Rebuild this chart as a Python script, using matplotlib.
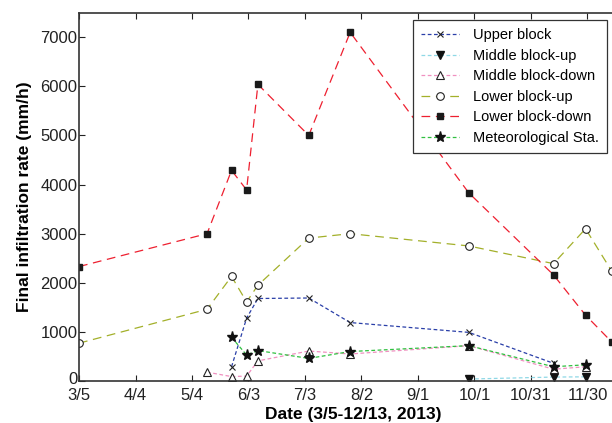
import numpy as np
import pandas as pd
import matplotlib
matplotlib.use('Agg')
import matplotlib.pyplot as plt
import matplotlib.dates as mdates
import matplotlib.transforms as mtransforms

plt.rcParams['font.family'] = ['Liberation Sans', 'DejaVu Sans']

# --- data ---
upper_dates = ['2013-05-25', '2013-06-02', '2013-06-08', '2013-07-05', '2013-07-27',
               '2013-09-28', '2013-11-12']
upper = [290, 1280, 1680, 1690, 1190, 990, 360]

mid_up_dates = ['2013-09-28', '2013-11-12', '2013-11-29']
mid_up = [40, 80, 85]

mid_down_dates = ['2013-05-12', '2013-05-25', '2013-06-02', '2013-06-08', '2013-07-05',
                  '2013-07-27', '2013-09-28', '2013-11-12', '2013-11-29']
mid_down = [180, 90, 100, 410, 610, 550, 720, 240, 290]

lower_dates = ['2013-03-05', '2013-05-12', '2013-05-25', '2013-06-02', '2013-06-08',
               '2013-07-05', '2013-07-27', '2013-09-28', '2013-11-12', '2013-11-29',
               '2013-12-13']
lower_up = [770, 1460, 2130, 1610, 1950, 2910, 3000, 2750, 2390, 3100, 2230]
lower_down = [2330, 3000, 4290, 3890, 6040, 5000, 7100, 3830, 2160, 1340, 790]

meteo_dates = ['2013-05-25', '2013-06-02', '2013-06-08', '2013-07-05', '2013-07-27',
               '2013-09-28', '2013-11-12', '2013-11-29']
meteo = [890, 530, 620, 460, 600, 720, 290, 330]

tick_dates = ['2013-03-05', '2013-04-04', '2013-05-04', '2013-06-03', '2013-07-03',
              '2013-08-02', '2013-09-01', '2013-10-01', '2013-10-31', '2013-11-30']
tick_labels = ['3/5', '4/4', '5/4', '6/3', '7/3', '8/2', '9/1', '10/1', '10/31', '11/30']

d = lambda s: mdates.date2num(pd.to_datetime(s))

fig = plt.figure(figsize=(6.12, 4.23), dpi=100)
ax = fig.add_axes([0.1291, 0.0993, 0.8954, 0.8707])

lw = 0.9
short = (3, 2)
long_ = (7, 4.5)

ax.plot(d(upper_dates), upper, color='#2a3fa8', lw=lw, dashes=short,
        marker='x', ms=5, mec='#222222', mew=0.8, label='Upper block')
ax.plot(d(mid_up_dates), mid_up, color='#8fd8e6', lw=lw, dashes=short,
        marker='v', ms=5.5, mfc='#111111', mec='#111111', label='Middle block-up')
ax.plot(d(mid_down_dates), mid_down, color='#f090c0', lw=lw, dashes=short,
        marker='^', ms=5.5, mfc='white', mec='#222222', mew=0.8, label='Middle block-down')
ax.plot(d(lower_dates), lower_up, color='#a3b02a', lw=lw, dashes=long_,
        marker='o', ms=5.5, mfc='white', mec='#222222', mew=0.8, label='Lower block-up')
ax.plot(d(lower_dates), lower_down, color='#ee2030', lw=lw, dashes=long_,
        marker='s', ms=5, mfc='#1a1a1a', mec='#1a1a1a', label='Lower block-down')
ax.plot(d(meteo_dates), meteo, color='#30c040', lw=lw, dashes=short,
        marker='*', ms=8, mfc='#111111', mec='#111111', label='Meteorological Sta.')

ax.set_xlim(d('2013-03-05'), d('2013-12-21'))
ax.set_ylim(0, 7500)
ax.set_xticks(d(tick_dates))
ax.set_xticklabels(tick_labels)
ax.set_yticks(np.arange(0, 7001, 1000))

ax.tick_params(direction='in', length=4, width=0.8, labelsize=12, colors='#222222',
               top=True, right=True)
ax.tick_params(axis='x', pad=5)
ax.tick_params(axis='y', pad=1)
for s in ax.spines.values():
    s.set_linewidth(1.2)
    s.set_color('#333333')

# lift the "0" label a little so it clears "3/5"
lbl0 = ax.get_yticklabels()[0]
lbl0.set_transform(lbl0.get_transform() +
                   mtransforms.ScaledTranslation(0, 2 / 72, fig.dpi_scale_trans))

ax.set_xlabel('Date (3/5-12/13, 2013)', fontsize=12.5, fontweight='bold', labelpad=3)
ax.set_ylabel('Final infiltration rate (mm/h)', fontsize=12.5, fontweight='bold', labelpad=6)

leg = ax.legend(loc='upper right', bbox_to_anchor=(0.9635, 0.980), borderaxespad=0,
                fontsize=10.5, fancybox=False, framealpha=1, edgecolor='#333333',
                handlelength=2.6, borderpad=0.55, labelspacing=0.45, handletextpad=0.95)
leg.get_frame().set_linewidth(0.9)

fig.savefig('out.png', dpi=100)
